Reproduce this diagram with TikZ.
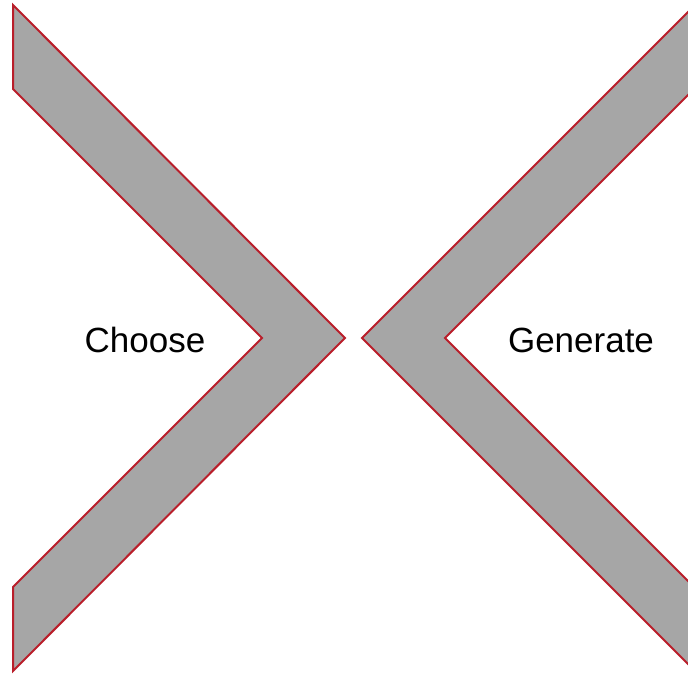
\documentclass[tikz,border=0pt]{standalone}
\usepackage{fontspec}
\setmainfont{Liberation Sans}
\usepackage{xcolor}
\definecolor{chevfill}{RGB}{166,166,166}
\definecolor{chevline}{RGB}{185,30,42}
\def\chevw{83}

\begin{document}
\begin{tikzpicture}[x=1pt, y=-1pt,
		chevron/.style={fill=chevfill, draw=chevline, line width=2pt, line join=miter},
		lbl/.style={font=\fontsize{35}{42}\selectfont, inner sep=0pt}]
		\useasboundingbox (0,0) rectangle (688,674);
		\clip (0,0) rectangle (688,674);
		% left chevron
		\draw[chevron] (13,5) -- (345,338) -- (13,671) -- (13,587) -- (345-\chevw,338) -- (13,89) -- cycle;
		% right chevron, runs off the page
		\draw[chevron] (362,338) -- (700,0) -- (700,83) -- (362+\chevw,338) -- (700,593) -- (700,676) -- cycle;
		\node[lbl] (choose) at (145,340) {Choose};
		\node[lbl] (generate) at (581,340) {Generate};
	\end{tikzpicture}
\end{document}
